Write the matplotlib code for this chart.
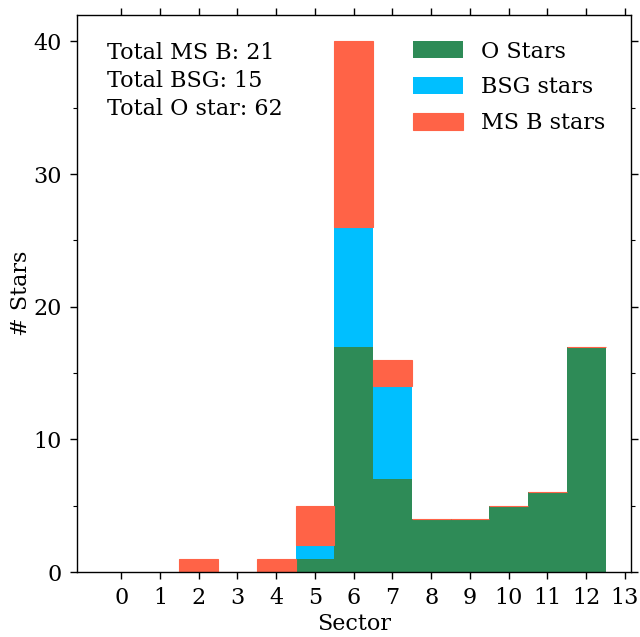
import matplotlib
matplotlib.use("Agg")
import matplotlib.pyplot as plt
import numpy as np

plt.rcParams['font.family'] = ['DejaVu Serif']

# counts per sector
sectors = [2, 3, 4, 5, 6, 7, 8, 9, 10, 11, 12]
o_stars = [0, 0, 0, 1, 17, 7, 4, 4, 5, 6, 17]
bsg_stars = [0, 0, 0, 1, 9, 7, 0, 0, 0, 0, 0]
msb_stars = [1, 0, 1, 3, 14, 2, 0, 0, 0, 0, 0]

totals_text = "Total MS B: 21\nTotal BSG: 15\nTotal O star: 62"
tick_sectors = np.arange(0, 14)

fig, ax = plt.subplots(figsize=(6.4, 6.37), dpi=100)
fig.subplots_adjust(left=0.1198, right=0.9855, top=0.9765, bottom=0.102)

x = np.array(sectors)
o = np.array(o_stars)
b = np.array(bsg_stars)
m = np.array(msb_stars)

ax.bar(x, o, width=1.0, color='seagreen', label='O Stars')
ax.bar(x, b, width=1.0, bottom=o, color='deepskyblue', label='BSG stars')
ax.bar(x, m, width=1.0, bottom=o + b, color='tomato', edgecolor='tomato',
       linewidth=0.8, label='MS B stars')

ax.set_xlim(-1.15, 13.15)
ax.set_ylim(0, 42)
ax.set_xticks(tick_sectors)
ax.set_yticks([0, 10, 20, 30, 40])
ax.set_yticks(np.arange(5, 42, 5), minor=True)
ax.tick_params(which='both', direction='out', top=True, right=True, labelsize=16)
ax.tick_params(which='major', length=5, width=1, pad=6)
ax.tick_params(which='minor', length=3, width=0.8)
ax.tick_params(axis='x', which='minor', bottom=False, top=False)
for sp in ax.spines.values():
    sp.set_linewidth(1.0)

ax.set_xlabel("Sector", fontsize=16, labelpad=3)
ax.set_ylabel("# Stars", fontsize=16, labelpad=1)

ax.text(0.054, 0.952, totals_text, transform=ax.transAxes, fontsize=16,
        va='top', ha='left', linespacing=1.37)

ax.legend(loc='upper right', frameon=False, fontsize=16, handlelength=2.25,
          handleheight=0.81, borderaxespad=0.75, labelspacing=0.62)

plt.savefig("out.png", dpi=100)
